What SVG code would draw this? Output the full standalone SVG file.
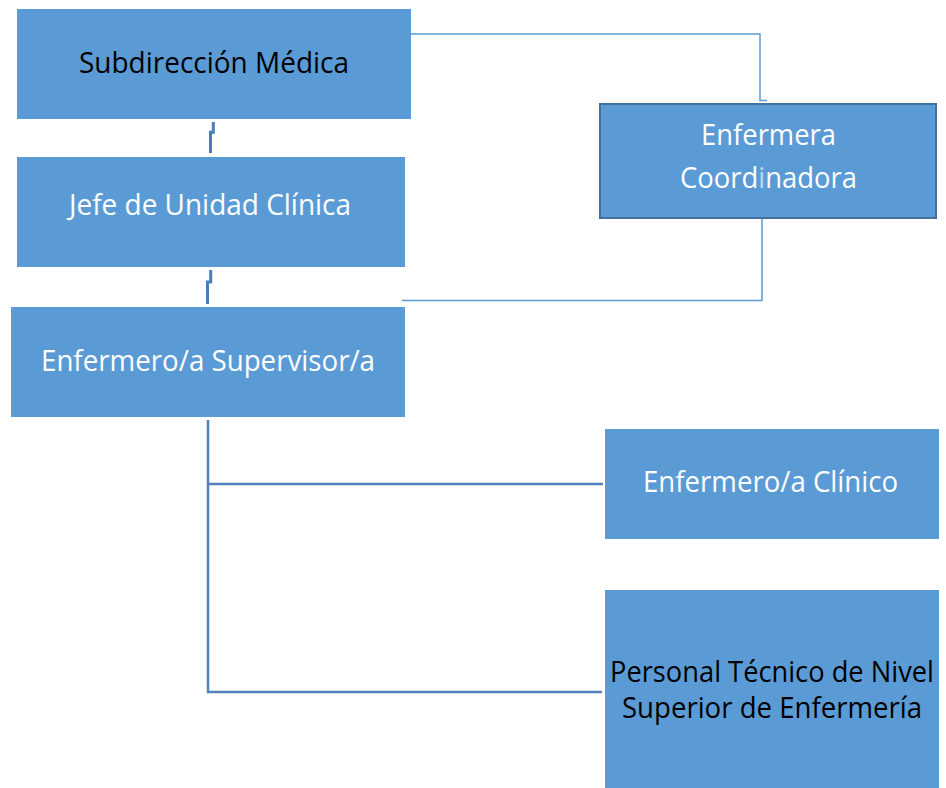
<svg xmlns="http://www.w3.org/2000/svg" width="946" height="788" viewBox="0 0 946 788">
<style>
.box{fill:#5B9BD5}
.t{font-family:"Open Sans","Liberation Sans",sans-serif;font-size:29px}
.w{fill:#FFFFFF}
.k{fill:#000000}
.c1{fill:none;stroke:#4A7EBB;stroke-width:3}
.c2{fill:none;stroke:#4F81BD;stroke-width:2.5}
.c3{fill:none;stroke:#5B9BD5;stroke-width:1.5}
</style>
<rect width="946" height="788" fill="#FFFFFF"/>
<g id="connectors">
<path class="c1" d="M213.3,122 V132.3 H210.5 V153"/>
<path class="c1" d="M210.7,270 V282 H207.5 V304"/>
<path class="c3" d="M411,34 H760 V100.5 H767"/>
<path class="c3" d="M762,219 V300.5 H402"/>
<path class="c2" d="M208,420 V692 H602"/>
<path class="c2" d="M208,484 H603"/>
</g>
<g id="n1">
<rect class="box" x="17" y="9" width="394" height="110"/>
<text class="t k" x="79" y="73" textLength="270" lengthAdjust="spacingAndGlyphs">Subdirección Médica</text>
</g>
<g id="n2">
<rect class="box" x="17" y="157" width="388" height="110"/>
<text class="t w" x="69" y="215" textLength="282" lengthAdjust="spacingAndGlyphs">Jefe de Unidad Clínica</text>
</g>
<g id="n3">
<rect class="box" x="11" y="307" width="394" height="110"/>
<text class="t w" x="41" y="371" textLength="334" lengthAdjust="spacingAndGlyphs">Enfermero/a Supervisor/a</text>
</g>
<g id="n4">
<rect class="box" x="600" y="104" width="336" height="114" stroke="#41719C" stroke-width="2"/>
<text class="t w" x="701" y="145" textLength="135" lengthAdjust="spacingAndGlyphs">Enfermera</text>
<text class="t w" x="680" y="188" textLength="177" lengthAdjust="spacingAndGlyphs">Coord<tspan fill="#BDD7EE">i</tspan>nadora</text>
</g>
<g id="n5">
<rect class="box" x="605" y="429" width="334" height="110"/>
<text class="t w" x="643" y="492" textLength="255" lengthAdjust="spacingAndGlyphs">Enfermero/a Clínico</text>
</g>
<g id="n6">
<rect class="box" x="605" y="590" width="334" height="198"/>
<text class="t k" x="610" y="682" textLength="324" lengthAdjust="spacingAndGlyphs">Personal Técnico de Nivel</text>
<text class="t k" x="622" y="718" textLength="300" lengthAdjust="spacingAndGlyphs">Superior de Enfermería</text>
</g>
</svg>
